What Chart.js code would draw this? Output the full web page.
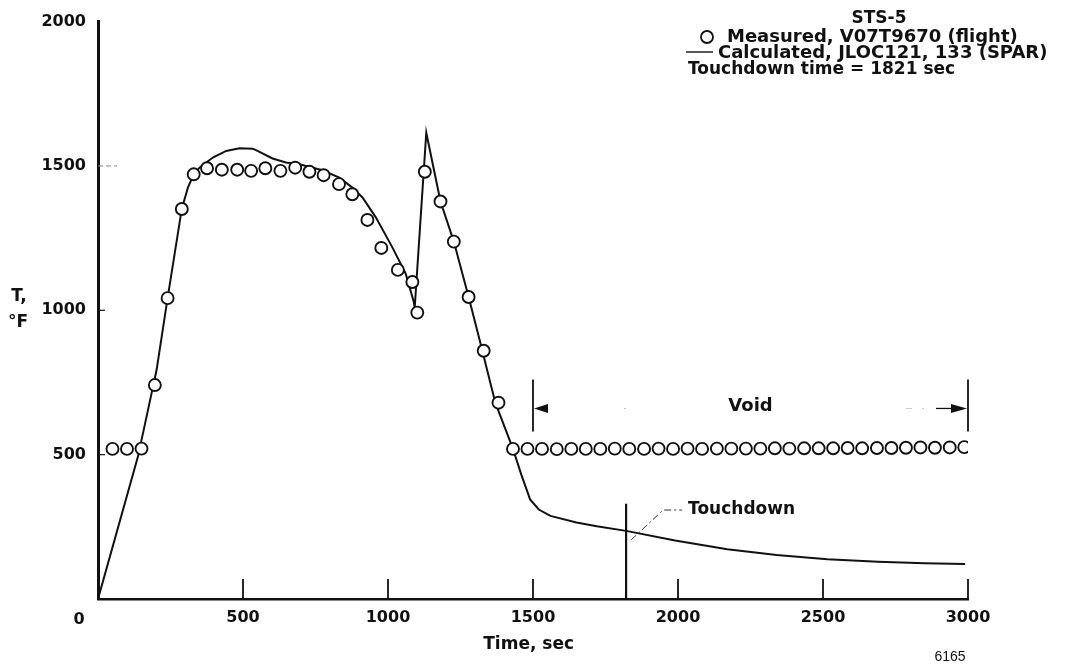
<!DOCTYPE html>
<html>
<head>
<meta charset="utf-8">
<script src="https://cdn.jsdelivr.net/npm/chart.js@4"></script>
<style>
  html, body { margin: 0; padding: 0; background: #fff; }
  #c { display: block; }
</style>
</head>
<body>
<canvas id="c" width="1071" height="665"></canvas>
<script>
// ---- Data ----
const xTickValues = [0, 500, 1000, 1500, 2000, 2500, 3000];
const yTickValues = [0, 500, 1000, 1500, 2000];

// Measured, V07T9670 (flight)  (time s, temperature °F)
const measuredTime = [50, 100, 150, 196, 240, 289, 330, 376, 427, 480, 528, 577, 629, 680, 729, 778,
  831, 877, 929, 977, 1034, 1084, 1101, 1127, 1181, 1227, 1278, 1330, 1381, 1431,
  1481, 1531, 1582, 1632, 1682, 1732, 1782, 1832, 1883, 1933, 1983, 2033, 2083, 2134, 2184, 2234,
  2284, 2334, 2384, 2435, 2485, 2535, 2585, 2635, 2686, 2736, 2786, 2836, 2886, 2937, 2987];
const measuredTemp = [520, 520, 521, 741, 1042, 1351, 1471, 1492, 1487, 1487, 1483, 1492, 1483, 1494, 1480, 1468,
  1437, 1402, 1313, 1216, 1140, 1098, 992, 1480, 1377, 1238, 1046, 860, 680, 520,
  520, 520, 519, 520, 520, 520, 521, 520, 520, 521, 520, 521, 520, 521, 521, 521,
  521, 522, 521, 522, 522, 522, 523, 522, 523, 523, 524, 525, 524, 525, 526];

// Calculated, JLOC121, 133 (SPAR)
const calcTime = [0, 138, 185, 202, 240, 289, 310, 330, 350, 396, 442, 488, 534, 557, 602, 648, 694,
  774, 832, 877, 912, 958, 1015, 1061, 1089, 1092, 1132, 1181, 1227, 1278, 1316, 1370, 1431,
  1460, 1490, 1520, 1560, 1650, 1720, 1821, 1990, 2170, 2340, 2515, 2690, 2850, 2990];
const calcTemp = [0, 494, 714, 793, 1042, 1352, 1425, 1471, 1494, 1529, 1552, 1561, 1560, 1549, 1526, 1512, 1506,
  1485, 1460, 1425, 1391, 1322, 1218, 1127, 1029, 1008, 1615, 1377, 1238, 1046, 897, 680, 520,
  430, 345, 310, 288, 265, 252, 236, 203, 172, 152, 138, 129, 124, 121];

// Annotation values
const touchdownTime = 1821;
const touchdownMarkTop = 330;
const voidStart = 1500;
const voidEnd = 3000;
const voidBarLow = 580;
const voidBarHigh = 760;
const voidArrowTemp = 660;

const INK = '#111';
const BOLD = "'DejaVu Sans', sans-serif";

const measuredPts = measuredTime.map((t, i) => ({ x: t, y: measuredTemp[i] }));
const calcPts = calcTime.map((t, i) => ({ x: t, y: calcTemp[i] }));

function drawCircle(ctx, cx, cy, r) {
  ctx.beginPath();
  ctx.arc(cx, cy, r, 0, Math.PI * 2);
  ctx.fillStyle = '#fff';
  ctx.fill();
  ctx.lineWidth = 1.8;
  ctx.strokeStyle = INK;
  ctx.stroke();
}

const annotations = {
  id: 'annotations',
  afterDraw(chart) {
    const { ctx, chartArea: a } = chart;
    const x = chart.scales.x, y = chart.scales.y;
    ctx.save();

    // inner x tick marks
    ctx.strokeStyle = INK;
    ctx.lineWidth = 1.8;
    xTickValues.forEach(v => {
      if (v === 0) return;
      const px = x.getPixelForValue(v);
      ctx.beginPath();
      ctx.moveTo(px, a.bottom);
      ctx.lineTo(px, a.bottom - 20);
      ctx.stroke();
    });
    // inner y tick marks
    yTickValues.forEach(v => {
      if (v === 0 || v === 2000) return;
      const py = y.getPixelForValue(v);
      ctx.beginPath();
      if (v === 1500) {
        ctx.strokeStyle = '#888';
        ctx.lineWidth = 1;
        ctx.setLineDash([5, 3]);
        ctx.moveTo(a.left, py);
        ctx.lineTo(a.left + 19, py);
      } else {
        ctx.strokeStyle = INK;
        ctx.lineWidth = 1.2;
        ctx.setLineDash([]);
        ctx.moveTo(a.left, py);
        ctx.lineTo(a.left + 7, py);
      }
      ctx.stroke();
      ctx.setLineDash([]);
    });

    // origin label "0"
    ctx.fillStyle = INK;
    ctx.font = "bold 16px " + BOLD;
    ctx.textAlign = 'center';
    ctx.textBaseline = 'middle';
    ctx.fillText('0', x.getPixelForValue(0) - 19, 620);

    // axis titles
    ctx.font = "bold 17px " + BOLD;
    ctx.fillText('Time, sec', x.getPixelForValue(1485), 645);
    ctx.fillText('T,', 19, 297);
    ctx.fillText('°F', 18, 323);

    // figure number
    ctx.font = "14px 'Liberation Sans', sans-serif";
    ctx.fillText('6165', 950, 657);

    // Touchdown marker
    const tdx = x.getPixelForValue(touchdownTime);
    ctx.strokeStyle = INK;
    ctx.lineWidth = 2.2;
    ctx.beginPath();
    ctx.moveTo(tdx, a.bottom);
    ctx.lineTo(tdx, y.getPixelForValue(touchdownMarkTop));
    ctx.stroke();
    // leader
    ctx.lineWidth = 1;
    ctx.strokeStyle = '#333';
    ctx.setLineDash([7, 3, 2, 3]);
    ctx.beginPath();
    ctx.moveTo(tdx + 5, 540);
    ctx.lineTo(tdx + 37, 510);
    ctx.lineTo(tdx + 56, 510);
    ctx.stroke();
    ctx.setLineDash([]);
    ctx.font = "bold 17px " + BOLD;
    ctx.textAlign = 'left';
    ctx.fillStyle = INK;
    ctx.fillText('Touchdown', tdx + 62, 510);

    // Void bracket
    const vx1 = x.getPixelForValue(voidStart);
    const vx2 = x.getPixelForValue(voidEnd);
    const vyA = y.getPixelForValue(voidArrowTemp);
    ctx.strokeStyle = INK;
    ctx.lineWidth = 1.8;
    [vx1, vx2].forEach(vx => {
      ctx.beginPath();
      ctx.moveTo(vx, y.getPixelForValue(voidBarLow));
      ctx.lineTo(vx, y.getPixelForValue(voidBarHigh));
      ctx.stroke();
    });
    // left arrowhead
    ctx.fillStyle = INK;
    ctx.beginPath();
    ctx.moveTo(vx1 + 1, vyA);
    ctx.lineTo(vx1 + 15, vyA - 4.5);
    ctx.lineTo(vx1 + 15, vyA + 4.5);
    ctx.closePath();
    ctx.fill();
    // right arrowhead + shaft
    ctx.beginPath();
    ctx.moveTo(vx2 - 1, vyA);
    ctx.lineTo(vx2 - 17, vyA - 4.5);
    ctx.lineTo(vx2 - 17, vyA + 4.5);
    ctx.closePath();
    ctx.fill();
    ctx.lineWidth = 1.3;
    ctx.beginPath();
    ctx.moveTo(vx2 - 32, vyA);
    ctx.lineTo(vx2 - 15, vyA);
    ctx.stroke();
    // faint dashed guide
    ctx.strokeStyle = '#c8c8c8';
    ctx.lineWidth = 1;
    ctx.setLineDash([6, 10, 2, 10]);
    ctx.beginPath();
    ctx.moveTo(vx2 - 62, vyA);
    ctx.lineTo(vx2 - 34, vyA);
    ctx.stroke();
    ctx.setLineDash([]);
    ctx.fillStyle = '#bbb';
    ctx.fillRect(vx1 + 91, vyA - 0.5, 2, 1);
    ctx.fillStyle = INK;
    ctx.font = "bold 18px " + BOLD;
    ctx.textAlign = 'center';
    ctx.fillText('Void', x.getPixelForValue((voidStart + voidEnd) / 2), 406);

    // Legend block
    ctx.font = "bold 17px " + BOLD;
    ctx.textAlign = 'center';
    ctx.fillText('STS-5', 879, 19);
    ctx.textAlign = 'left';
    drawCircle(ctx, 707, 37, 6);
    ctx.fillStyle = INK;
    ctx.font = "bold 18px " + BOLD;
    ctx.fillText('Measured, V07T9670 (flight)', 727, 37);
    ctx.strokeStyle = INK;
    ctx.lineWidth = 1.4;
    ctx.beginPath();
    ctx.moveTo(686, 52);
    ctx.lineTo(713, 52);
    ctx.stroke();
    ctx.fillText('Calculated, JLOC121, 133 (SPAR)', 718, 53);
    ctx.font = "bold 17px " + BOLD;
    ctx.fillText('Touchdown time = 1821 sec', 688, 70);

    ctx.restore();
  }
};

new Chart(document.getElementById('c'), {
  type: 'scatter',
  data: {
    datasets: [
      {
        label: 'Measured, V07T9670 (flight)',
        data: measuredPts,
        showLine: false,
        pointRadius: 6,
        pointBorderWidth: 1.9,
        pointBackgroundColor: '#fff',
        pointBorderColor: INK,
        order: 0
      },
      {
        label: 'Calculated, JLOC121, 133 (SPAR)',
        data: calcPts,
        showLine: true,
        borderColor: INK,
        borderWidth: 2,
        pointRadius: 0,
        tension: 0,
        order: 1
      }
    ]
  },
  options: {
    responsive: false,
    animation: false,
    devicePixelRatio: 1,
    layout: { padding: { left: 0, top: 18, right: 103, bottom: 0 } },
    plugins: { legend: { display: false }, tooltip: { enabled: false } },
    scales: {
      x: {
        type: 'linear',
        min: 0, max: 3000,
        afterFit(s) { s.height = 66; },
        afterBuildTicks(s) { s.ticks = xTickValues.map(v => ({ value: v })); },
        grid: { display: false, drawTicks: false, drawOnChartArea: false },
        border: { display: true, color: INK, width: 2.5 },
        ticks: {
          autoSkip: false, maxRotation: 0, padding: 9,
          color: INK,
          font: { family: BOLD, weight: 'bold', size: 16 },
          callback: v => (v === 0 ? '' : String(v))
        }
      },
      y: {
        type: 'linear',
        min: 0, max: 2000,
        afterFit(s) { s.width = 98; },
        afterBuildTicks(s) { s.ticks = yTickValues.map(v => ({ value: v })); },
        grid: { display: false, drawTicks: false, drawOnChartArea: false },
        border: { display: true, color: INK, width: 3 },
        ticks: {
          autoSkip: false, padding: 12,
          color: INK,
          font: { family: BOLD, weight: 'bold', size: 16 },
          callback: v => (v === 0 ? '' : String(v))
        }
      }
    }
  },
  plugins: [annotations]
});
</script>
</body>
</html>
